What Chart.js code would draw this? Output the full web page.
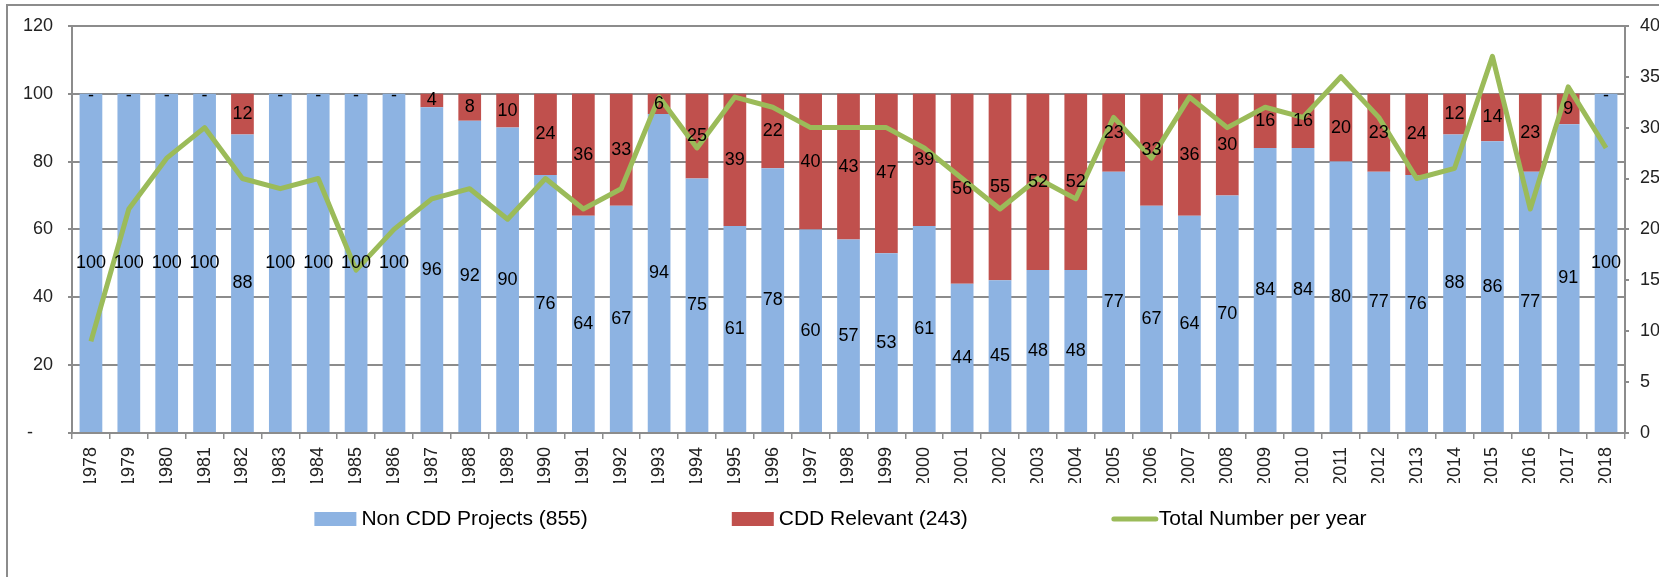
<!DOCTYPE html>
<html>
<head>
<meta charset="utf-8">
<title>CDD projects per year</title>
<script src="https://cdn.jsdelivr.net/npm/chart.js@4.4.1/dist/chart.umd.min.js"></script>
<style>
  html, body { margin: 0; padding: 0; background: #fff; overflow: hidden; }
  #wrap { position: relative; width: 1659px; height: 577px; }
  #frame {
    position: absolute; left: 6px; top: 4px; right: -10px; bottom: -10px;
    border-left: 2px solid #8c8c8c; border-top: 2px solid #8c8c8c;
    pointer-events: none;
  }
</style>
</head>
<body>
<div id="wrap">
  <canvas id="cddChart"></canvas>
  <div id="frame"></div>
</div>
<script>
// Years (categories)
const years = ['1978', '1979', '1980', '1981', '1982', '1983', '1984', '1985', '1986', '1987',
  '1988', '1989', '1990', '1991', '1992', '1993', '1994', '1995', '1996', '1997',
  '1998', '1999', '2000', '2001', '2002', '2003', '2004', '2005', '2006', '2007',
  '2008', '2009', '2010', '2011', '2012', '2013', '2014', '2015', '2016', '2017', '2018'];

// Share of projects per year (%)
const nonCdd = [100, 100, 100, 100, 88, 100, 100, 100, 100, 96, 92, 90,
  76, 64, 67, 94, 75, 61, 78, 60, 57, 53,
  61, 44, 45, 48, 48, 77, 67, 64, 70, 84,
  84, 80, 77, 76, 88, 86, 77, 91, 100];
const cdd = [0, 0, 0, 0, 12, 0, 0, 0, 0, 4, 8, 10,
  24, 36, 33, 6, 25, 39, 22, 40, 43, 47,
  39, 56, 55, 52, 52, 23, 33, 36, 30, 16,
  16, 20, 23, 24, 12, 14, 23, 9, 0];

// Total number of projects per year (right axis)
const totals = [9, 22, 27, 30, 25, 24, 25, 16, 20, 23, 24, 21, 25,
  22, 24, 33, 28, 33, 32, 30, 30, 30, 28, 25, 22, 25, 23,
  31, 27, 33, 30, 32, 31, 35, 31, 25, 26, 37, 22, 34, 28];

const grey = '#8c8c8c';
const narrow = '"Liberation Sans Narrow", "Liberation Sans", sans-serif';

// Values written in the middle of each bar segment
const barLabels = {
  id: 'barLabels',
  afterDatasetsDraw(chart) {
    const ctx = chart.ctx;
    ctx.save();
    ctx.font = '18px ' + narrow;
    ctx.fillStyle = '#000';
    ctx.textAlign = 'center';
    ctx.textBaseline = 'middle';
    chart.data.datasets.forEach((ds, i) => {
      if (ds.type === 'line') return;
      chart.getDatasetMeta(i).data.forEach((bar, j) => {
        const v = ds.data[j];
        if (v === 0) {
          ctx.fillText('-', bar.x, bar.y + 2);
        } else {
          ctx.fillText(v, bar.x, (bar.y + bar.base) / 2);
        }
      });
    });
    ctx.restore();
  }
};

// Legend under the axis, wide gaps like the original
const wideLegend = {
  id: 'wideLegend',
  afterDraw(chart) {
    const ctx = chart.ctx;
    const gap = 144, boxW = 42, boxH = 14, textGap = 5;
    const y = 519;
    ctx.save();
    ctx.font = '21px "Liberation Sans", sans-serif';
    ctx.textBaseline = 'middle';
    ctx.textAlign = 'left';
    const items = chart.data.datasets.map(ds => ({
      text: ds.label,
      line: ds.type === 'line',
      color: ds.type === 'line' ? ds.borderColor : ds.backgroundColor,
      width: boxW + textGap + ctx.measureText(ds.label).width
    }));
    const total = items.reduce((s, it) => s + it.width, 0) + gap * (items.length - 1);
    let x = (chart.chartArea.left + chart.chartArea.right) / 2 - 8 - total / 2;
    items.forEach(it => {
      if (it.line) {
        ctx.strokeStyle = it.color;
        ctx.lineWidth = 5;
        ctx.lineCap = 'round';
        ctx.beginPath();
        ctx.moveTo(x + 2, y);
        ctx.lineTo(x + boxW + 2, y);
        ctx.stroke();
      } else {
        ctx.fillStyle = it.color;
        ctx.fillRect(x, y - boxH / 2, boxW, boxH);
      }
      ctx.fillStyle = '#000';
      ctx.fillText(it.text, x + boxW + textGap, y);
      x += it.width + gap;
    });
    ctx.restore();
  }
};

const ctx = document.getElementById('cddChart').getContext('2d');
const cddChart = new Chart(ctx, {
  type: 'bar',
  data: {
    labels: years,
    datasets: [
      {
        label: 'Non CDD Projects (855)',
        data: nonCdd,
        backgroundColor: '#8db3e2',
        yAxisID: 'y',
        order: 1,
        barPercentage: 0.6,
        categoryPercentage: 1
      },
      {
        label: 'CDD Relevant (243)',
        data: cdd,
        backgroundColor: '#c0504d',
        yAxisID: 'y',
        order: 1,
        barPercentage: 0.6,
        categoryPercentage: 1
      },
      {
        type: 'line',
        label: 'Total Number per year',
        data: totals,
        borderColor: '#9bbb59',
        backgroundColor: '#9bbb59',
        borderWidth: 5,
        borderJoinStyle: 'round',
        pointRadius: 0,
        tension: 0,
        yAxisID: 'y1',
        order: 0
      }
    ]
  },
  options: {
    responsive: true,
    maintainAspectRatio: false,
    animation: false,
    layout: { padding: { top: 22, left: 0, right: 0, bottom: 94 } },
    plugins: {
      legend: { display: false },
      tooltip: { enabled: false }
    },
    scales: {
      x: {
        stacked: true,
        grid: { drawOnChartArea: false, color: grey, lineWidth: 1.5, tickLength: 6, offset: true },
        border: { color: grey, width: 2 },
        ticks: {
          minRotation: 90, maxRotation: 90, autoSkip: false, padding: 8,
          color: '#222', font: { family: narrow, size: 18 }
        },
        afterFit(scale) { scale.height = 50; }
      },
      y: {
        stacked: true,
        min: 0,
        max: 120,
        ticks: {
          stepSize: 20, padding: 15, color: '#222', font: { family: narrow, size: 18 },
          callback: v => v === 0 ? '-    ' : v
        },
        grid: { color: grey, lineWidth: 2, tickLength: 4 },
        border: { color: grey, width: 2 },
        afterFit(scale) { scale.width = 72; }
      },
      y1: {
        position: 'right',
        min: 0,
        max: 40,
        ticks: { stepSize: 5, padding: 11, color: '#222', font: { family: narrow, size: 18 } },
        grid: { drawOnChartArea: false, color: grey, lineWidth: 2, tickLength: 4 },
        border: { color: grey, width: 2 },
        afterFit(scale) { scale.width = 34; }
      }
    }
  },
  plugins: [barLabels, wideLegend]
});
</script>
</body>
</html>
